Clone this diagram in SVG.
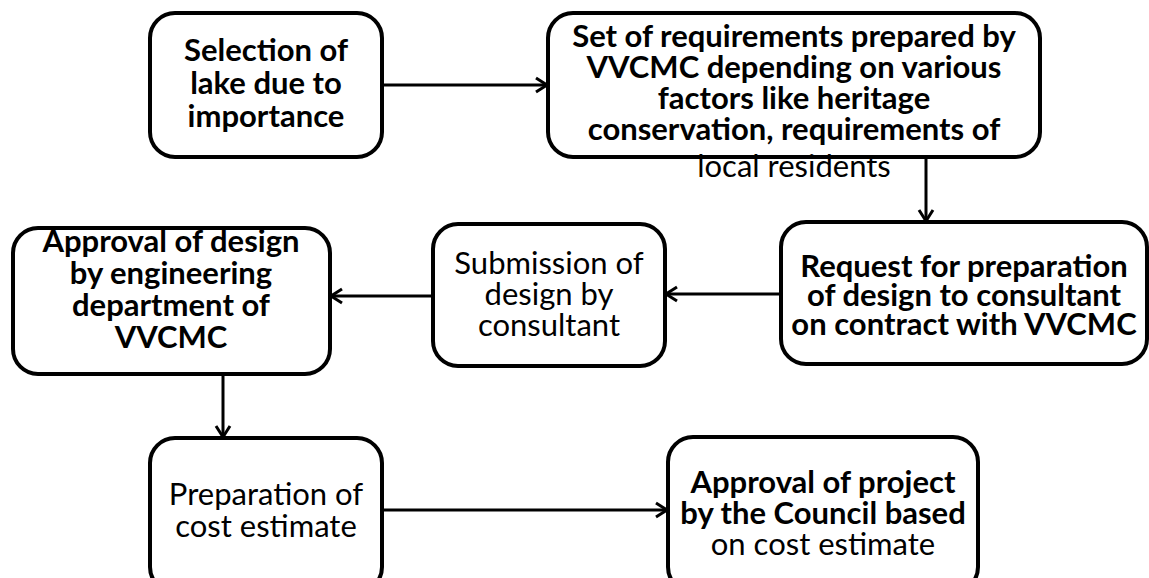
<svg xmlns="http://www.w3.org/2000/svg" width="1149" height="578" viewBox="0 0 1149 578">
  <style>
    .box { fill: #ffffff; stroke: #000000; stroke-width: 4; }
    .lbl { font-family: Lato, "Liberation Sans", sans-serif; font-size: 31px; fill: #000000; text-anchor: middle; }
    .b { font-weight: bold; }
    .edge { fill: none; stroke: #000000; stroke-width: 3; marker-end: url(#head); }
  </style>
  <defs>
    <marker id="head" markerUnits="userSpaceOnUse" markerWidth="14" markerHeight="16" refX="12" refY="7" orient="auto" overflow="visible">
      <path d="M1,0 L12,7 L1,14" fill="none" stroke="#000000" stroke-width="3"/>
    </marker>
  </defs>
  <rect width="1149" height="578" fill="#ffffff"/>

  <g id="connectors">
    <line class="edge" x1="382" y1="85" x2="547" y2="85"/>
    <line class="edge" x1="926" y1="157" x2="926" y2="221"/>
    <line class="edge" x1="781" y1="294" x2="666" y2="294"/>
    <line class="edge" x1="433" y1="296" x2="331" y2="296"/>
    <line class="edge" x1="223" y1="374" x2="223" y2="437"/>
    <line class="edge" x1="382" y1="510" x2="667" y2="510"/>
  </g>

  <g id="selection">
    <rect class="box" x="150" y="13" width="232" height="144" rx="25"/>
    <text class="lbl b" x="266" y="61">Selection of</text>
    <text class="lbl b" x="266" y="94">lake due to</text>
    <text class="lbl b" x="266" y="127">importance</text>
  </g>

  <g id="requirements">
    <rect class="box" x="548" y="13" width="492" height="144" rx="25"/>
    <text class="lbl b" x="794" y="47">Set of requirements prepared by</text>
    <text class="lbl b" x="794" y="78">VVCMC depending on various</text>
    <text class="lbl b" x="794" y="109">factors like heritage</text>
    <text class="lbl b" x="794" y="140">conservation, requirements of</text>
    <text class="lbl" x="794" y="177">local residents</text>
  </g>

  <g id="request">
    <rect class="box" x="781" y="222" width="366" height="142" rx="25"/>
    <text class="lbl b" x="964" y="277">Request for preparation</text>
    <text class="lbl b" x="964" y="306">of design to consultant</text>
    <text class="lbl b" x="964" y="335">on contract with VVCMC</text>
  </g>

  <g id="submission">
    <rect class="box" x="433" y="224" width="232" height="142" rx="25"/>
    <text class="lbl" x="549" y="274">Submission of</text>
    <text class="lbl" x="549" y="305">design by</text>
    <text class="lbl" x="549" y="336">consultant</text>
  </g>

  <g id="design-approval">
    <rect class="box" x="13" y="228" width="317" height="146" rx="25"/>
    <text class="lbl b" x="171" y="252">Approval of design</text>
    <text class="lbl b" x="171" y="284">by engineering</text>
    <text class="lbl b" x="171" y="316">department of</text>
    <text class="lbl b" x="171" y="348">VVCMC</text>
  </g>

  <g id="cost-estimate">
    <rect class="box" x="150" y="438" width="232" height="154" rx="25"/>
    <text class="lbl" x="266" y="505">Preparation of</text>
    <text class="lbl" x="266" y="537">cost estimate</text>
  </g>

  <g id="council-approval">
    <rect class="box" x="668" y="437" width="310" height="155" rx="25"/>
    <text class="lbl b" x="823" y="493">Approval of project</text>
    <text class="lbl b" x="823" y="524">by the Council based</text>
    <text class="lbl" x="823" y="555">on cost estimate</text>
  </g>
</svg>
